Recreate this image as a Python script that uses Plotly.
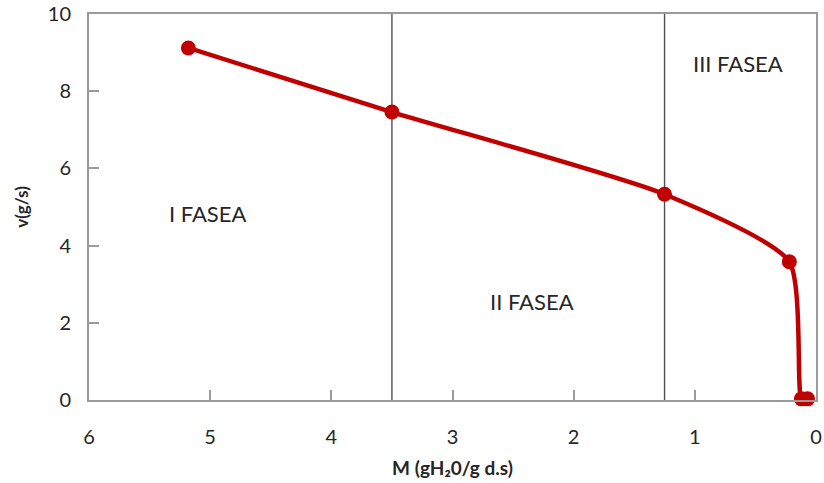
import plotly.graph_objects as go

# Drying rate vs moisture content
moisture = [5.18, 3.50, 1.25, 0.22, 0.12, 0.07]
rate = [9.12, 7.46, 5.33, 3.58, 0.03, 0.03]

phase_bounds = [3.50, 1.25]
phase_labels = ["I FASEA", "II FASEA", "III FASEA"]
phase_label_x = [5.02, 2.34, 0.64]
phase_label_y = [4.82, 2.56, 8.73]

x_ticks = [6, 5, 4, 3, 2, 1, 0]
y_ticks = [0, 2, 4, 6, 8, 10]

red = "#C00000"
font = "Lato, Open Sans, sans-serif"
text_color = "#262626"

fig = go.Figure()

fig.add_trace(go.Scatter(
    x=moisture, y=rate, mode="lines+markers",
    line=dict(color=red, width=4.5, shape="spline", smoothing=0.6),
    marker=dict(color=red, size=15),
    cliponaxis=False, showlegend=False, hoverinfo="x+y",
))

for xb in phase_bounds:
    fig.add_shape(type="line", xref="x", yref="y", x0=xb, x1=xb, y0=0, y1=10,
                  line=dict(color="#505050", width=1.4), layer="below")

for t, xx, yy in zip(phase_labels, phase_label_x, phase_label_y):
    fig.add_annotation(x=xx, y=yy, text=t, showarrow=False,
                       font=dict(family=font, size=22, color=text_color))

axis_common = dict(
    showline=True, linecolor="#9a9a9a", linewidth=2, mirror=True,
    ticks="inside", ticklen=10, tickcolor="#9a9a9a", tickwidth=1.5,
    showgrid=False, zeroline=False, automargin=False,
    tickfont=dict(family=font, size=20, color=text_color),
)

fig.update_xaxes(range=[6, 0], tickvals=x_ticks, ticktext=[str(v) for v in x_ticks],
                 ticklabelstandoff=18,
                 title=dict(text="<b>M (gH₂0/g d.s)</b>",
                            font=dict(family=font, size=19, color=text_color)),
                 **axis_common)
fig.update_yaxes(range=[0, 10], tickvals=y_ticks, ticklabelstandoff=12,
                 title=dict(text="<b>v(g/s)</b>",
                            font=dict(family=font, size=17, color=text_color)),
                 **axis_common)

fig.update_layout(
    width=824, height=483,
    margin=dict(l=89, r=8, t=14, b=83),
    paper_bgcolor="white", plot_bgcolor="white",
)

fig.write_html("out.html")
